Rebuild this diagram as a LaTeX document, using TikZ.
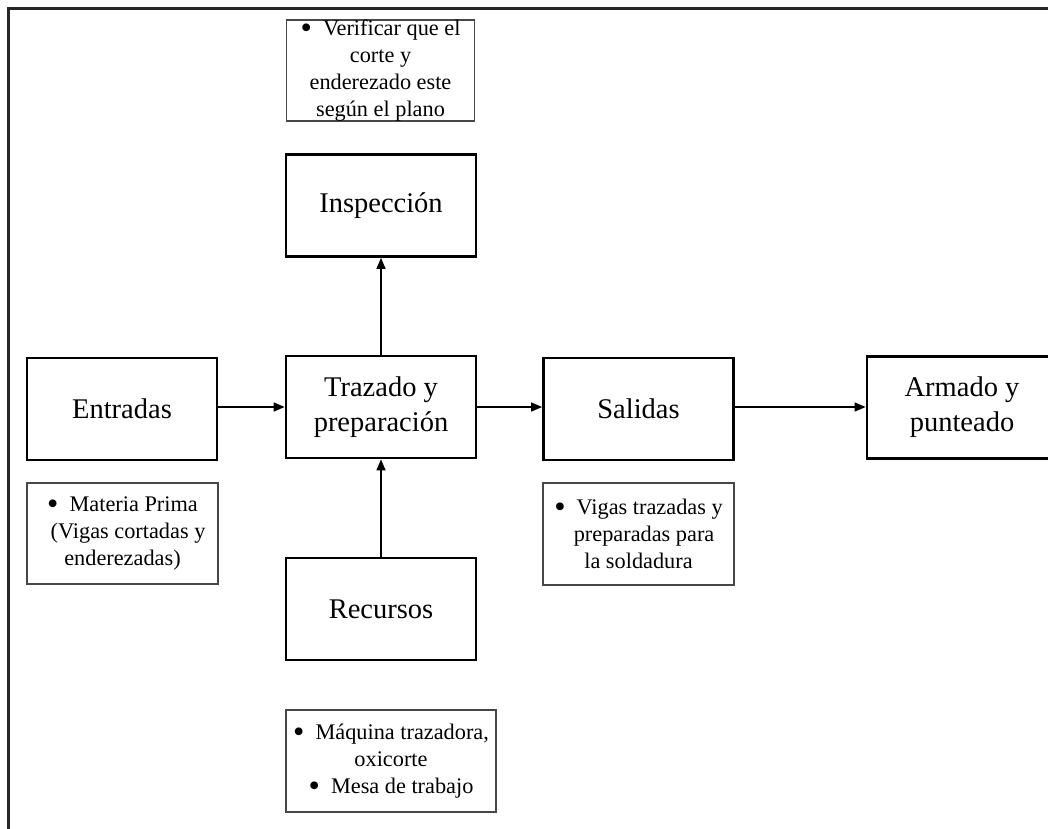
\documentclass[tikz,border=0pt]{standalone}
\usepackage{fontspec}
\usepackage{graphicx}
\setmainfont{Liberation Serif}
\usetikzlibrary{arrows.meta}
\newcommand{\bul}{\raisebox{-0.13em}{\scalebox{1.45}{\textbullet}}\ \ }
\begin{document}
\begin{tikzpicture}[x=1pt,y=-1pt,
  mainbox/.style={draw=black, line width=2.8pt, fill=white, minimum width=190pt, minimum height=102pt, inner sep=0pt, align=center, font=\fontsize{28.5}{35}\selectfont},
  notebox/.style={draw=black!72, line width=1.6pt, fill=white, inner sep=0pt, align=center, font=\fontsize{22.3}{27}\selectfont},
  arr/.style={-{Triangle[length=11pt,width=9pt]}, line width=1.5pt}]
\useasboundingbox (0,0) rectangle (1048,828);
\clip (0,0) rectangle (1048,828);
\fill[white] (0,0) rectangle (1048,828);
\draw[line width=2.5pt, black!85] (8.5,840) -- (8.5,8.5) -- (1060,8.5);
% main boxes
\node[mainbox] (insp) at (381,205.5) {Inspección};
\node[mainbox] (ent) at (122,409) {Entradas};
\node[mainbox] (traz) at (381,407) {Trazado y\\preparación};
\node[mainbox] (sal) at (638.5,409) {Salidas};
\node[mainbox] (arm) at (962,407.5) {Armado y\\punteado};
\node[mainbox] (rec) at (381,609) {Recursos};
% notes
\node[notebox, minimum width=188pt, minimum height=100pt] (ninsp) at (380.5,70.5) {\bul Verificar que el\\corte y\\enderezado este\\según el plano};
\node[notebox, minimum width=191pt, minimum height=101pt] (nent) at (122.5,533.5) {\bul Materia Prima\\\ \ (Vigas cortadas y\\enderezadas)};
\node[notebox, minimum width=191pt, minimum height=102pt] (nsal) at (638.5,534) {\bul Vigas trazadas y\\\ \ preparadas para\\la soldadura};
\node[notebox, minimum width=210pt, minimum height=102pt] (nrec) at (391,761) {\bul Máquina trazadora,\\oxicorte\\\bul Mesa de trabajo};
% connectors
\draw[arr] (ent.east |- traz.east) -- (traz.east -| traz.west);
\draw[arr] (traz.east) -- (sal.west |- traz.east);
\draw[arr] (sal.east |- traz.east) -- (arm.west |- traz.east);
\draw[arr] (traz.north) -- (insp.south);
\draw[arr] (rec.north) -- (traz.south);
\end{tikzpicture}
\end{document}
